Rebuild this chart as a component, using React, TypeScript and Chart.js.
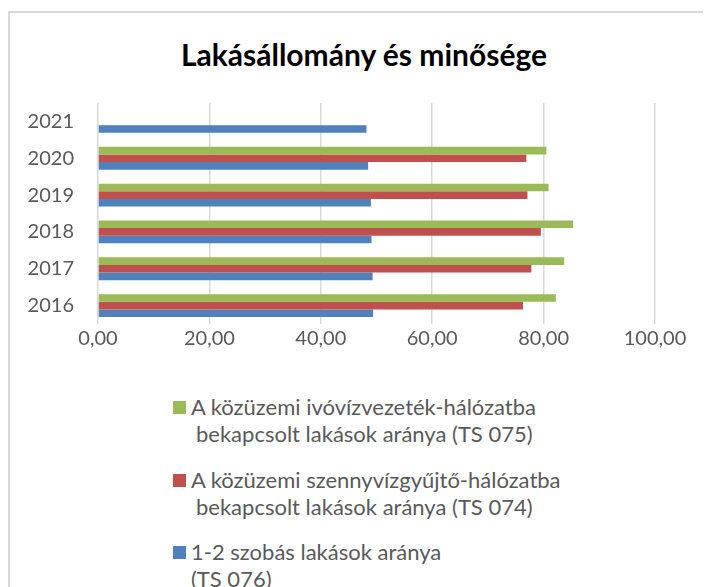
import React, { useEffect, useRef } from "react";
import { Chart, registerables } from "chart.js";

Chart.register(...registerables);

const years = ["2021", "2020", "2019", "2018", "2017", "2016"];
const ivovizValues = [null, 80.5, 80.9, 85.3, 83.7, 82.2];
const szennyvizValues = [null, 76.9, 77.1, 79.5, 77.8, 76.3];
const szobasValues = [48.2, 48.5, 49.0, 49.1, 49.3, 49.4];
const xTicks = [0, 20, 40, 60, 80, 100];

const seriesNames = [
  ["A közüzemi ivóvízvezeték-hálózatba", "bekapcsolt lakások aránya (TS 075)"],
  ["A közüzemi szennyvízgyűjtő-hálózatba", "bekapcsolt lakások aránya (TS 074)"],
  ["1-2 szobás lakások aránya", "(TS 076)"],
];
const seriesColors = ["#9BBB59", "#C0504D", "#4F81BD"];
const titleText = "Lakásállomány és minősége";

const FONT = "Lato, 'Open Sans', sans-serif";

export default function App() {
  const canvasRef = useRef<HTMLCanvasElement | null>(null);

  useEffect(() => {
    document.body.style.overflow = "hidden";
    const ctx = canvasRef.current;
    if (!ctx) return;
    const chart = new Chart(ctx, {
      type: "bar",
      data: {
        labels: years,
        datasets: [
          { label: seriesNames[0].join(" "), data: ivovizValues, backgroundColor: seriesColors[0] },
          { label: seriesNames[1].join(" "), data: szennyvizValues, backgroundColor: seriesColors[1] },
          { label: seriesNames[2].join(" "), data: szobasValues, backgroundColor: seriesColors[2] },
        ],
      },
      options: {
        indexAxis: "y",
        responsive: false,
        animation: false,
        devicePixelRatio: 1,
        datasets: { bar: { categoryPercentage: 0.62, barPercentage: 1 } },
        layout: { padding: { left: 0, right: 56, top: 95, bottom: 6 } },
        plugins: {
          legend: { display: false },
          tooltip: { enabled: false },
          title: { display: false },
        },
        scales: {
          x: {
            min: 0,
            max: 100,
            afterBuildTicks: (scale: any) => {
              scale.ticks = xTicks.map((v) => ({ value: v }));
            },
            ticks: {
              color: "#595959",
              font: { family: FONT, size: 20 },
              padding: 3,
              maxRotation: 0,
              callback: (v: any) => Number(v).toFixed(2).replace(".", ","),
            },
            grid: { color: "#D9D9D9", lineWidth: 1.5, drawTicks: false },
            border: { display: false },
          },
          y: {
            afterFit: (scale: any) => {
              scale.width = 90;
            },
            ticks: {
              color: "#595959",
              font: { family: FONT, size: 20 },
              padding: 24,
            },
            grid: { display: false, drawTicks: false },
            border: { display: false },
          },
        },
      },
    });
    return () => chart.destroy();
  }, []);

  const itemTops = [385, 458, 530];
  const secondIndent = [5, 5, 0];

  return (
    <div style={{ position: "relative", width: 703, height: 579, overflow: "hidden" }}>
      <div
        style={{
          position: "absolute",
          left: 0,
          top: 3,
          width: 800,
          height: 700,
          border: "2px solid #D9D9D9",
          boxSizing: "border-box",
          background: "#FFFFFF",
        }}
      />
      <div
        style={{
          position: "absolute",
          left: 0,
          top: 28,
          width: 712,
          textAlign: "center",
          fontFamily: FONT,
          fontWeight: "bold",
          fontSize: 30,
          lineHeight: "36px",
          color: "#000000",
          whiteSpace: "nowrap",
        }}
      >
        {titleText}
      </div>
      <canvas ref={canvasRef} width={703} height={352} style={{ position: "absolute", left: 0, top: 0 }} />
      {seriesNames.map((lines, i) => (
        <div
          key={i}
          style={{
            position: "absolute",
            left: 165,
            top: itemTops[i],
            fontFamily: FONT,
            fontSize: 22,
            lineHeight: "27px",
            color: "#595959",
            whiteSpace: "nowrap",
          }}
        >
          <span
            style={{
              position: "absolute",
              left: 0,
              top: 8,
              width: 13,
              height: 13,
              background: seriesColors[i],
            }}
          />
          <div style={{ paddingLeft: 18 }}>{lines[0]}</div>
          <div style={{ paddingLeft: 18 + secondIndent[i] }}>{lines[1]}</div>
        </div>
      ))}
    </div>
  );
}
